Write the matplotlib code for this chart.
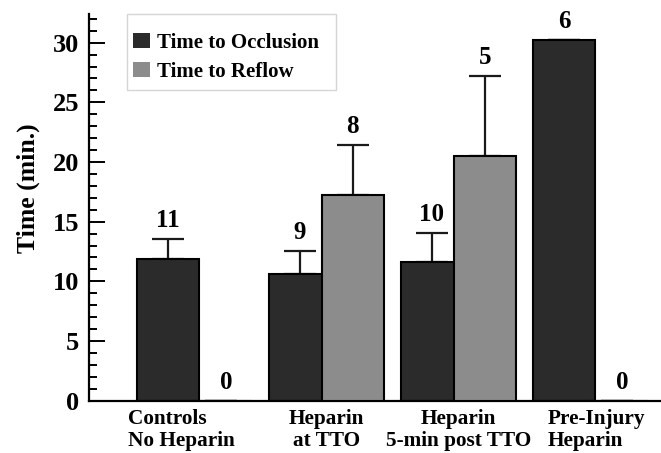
import matplotlib
matplotlib.use("Agg")
import matplotlib.pyplot as plt
import numpy as np
from matplotlib.ticker import MultipleLocator
from matplotlib.patches import Patch, Rectangle
from matplotlib.transforms import ScaledTranslation

plt.rcParams['font.family'] = ['Liberation Serif', 'DejaVu Serif']
plt.rcParams['font.weight'] = 'bold'

groups = ["Controls\nNo Heparin", "Heparin\nat TTO", "Heparin\n5-min post TTO", "Pre-Injury\nHeparin"]
occlusion = [11.84, 10.58, 11.61, 30.19]
occlusion_err = [1.73, 2.0, 2.43, 0]
reflow = [0, 17.27, 20.53, 0]
reflow_err = [0, 4.18, 6.68, 0]
n_occlusion = [11, 9, 10, 6]
n_reflow = [0, 8, 5, 0]

dark = '#2b2b2b'
gray = '#8c8c8c'

fig = plt.figure(figsize=(6.61, 4.53), dpi=100)
ax = fig.add_axes([0.1346, 0.1155, 0.8654, 0.8535])

x = np.arange(len(groups))
w = 0.47
off = 0.40

ebar = dict(ecolor='#1a1a1a', elinewidth=1.6, capsize=11.5, capthick=1.6)

ax.bar(x, occlusion, w, color=dark, edgecolor='black', linewidth=1.5,
       zorder=2, label='Time to Occlusion')
ax.errorbar(x, occlusion, yerr=[np.zeros(len(x)), occlusion_err],
            fmt='none', zorder=1, **ebar)
ax.bar(x + off, reflow, w, color=gray, edgecolor='black', linewidth=1.5,
       zorder=3, label='Time to Reflow')
ax.errorbar(x + off, reflow, yerr=[np.zeros(len(x)), reflow_err],
            fmt='none', zorder=1, **ebar)

# sample sizes over each bar (empty reflow bars get theirs a bit further right)
for xi, v, e, n in zip(x, occlusion, occlusion_err, n_occlusion):
    ax.annotate(str(n), (xi, v + e), xytext=(0, 5), textcoords='offset points',
                ha='center', va='bottom', fontsize=18, fontweight='bold')
for xi, v, e, n in zip(x + off, reflow, reflow_err, n_reflow):
    dx = 4 if v == 0 else 0
    ax.annotate(str(n), (xi, v + e), xytext=(dx, 5), textcoords='offset points',
                ha='center', va='bottom', fontsize=18, fontweight='bold')

ax.set_xlim(-0.598, 3.735)
ax.set_ylim(0, 32.4)
ax.yaxis.set_major_locator(MultipleLocator(5))
ax.yaxis.set_minor_locator(MultipleLocator(1))
ax.tick_params(axis='y', which='major', direction='in', length=11.5, width=1.4,
               labelsize=19, pad=7)
ax.tick_params(axis='y', which='minor', direction='in', length=6, width=1.4)

ax.set_xticks(x + off / 2)
ax.set_xticklabels(groups, fontsize=15.3, fontweight='bold', linespacing=1.12)
ax.tick_params(axis='x', length=0, pad=6)
nudge = {0: -0.13, 3: 0.06}
for i, lab in enumerate(ax.get_xticklabels()):
    if i in nudge:
        lab.set_multialignment('left')
        lab.set_transform(lab.get_transform() +
                          ScaledTranslation(nudge[i], 0, fig.dpi_scale_trans))

ax.set_ylabel('Time (min.)', fontsize=18.5, fontweight='bold')
ax.yaxis.set_label_coords(-0.085, 0.55)

for s in ('top', 'right'):
    ax.spines[s].set_visible(False)
for s in ('left', 'bottom'):
    ax.spines[s].set_linewidth(1.6)

# legend box drawn by hand, entries placed inside it
ax.add_patch(Rectangle((0.0664, 0.8035), 0.3654, 0.1965, transform=ax.transAxes,
                       facecolor='white', edgecolor='#d5d5d5', linewidth=1.0,
                       zorder=4, clip_on=False))
handles = [Patch(facecolor=dark, edgecolor='none'), Patch(facecolor=gray, edgecolor='none')]
leg = ax.legend(handles, ['Time to Occlusion', 'Time to Reflow'],
                loc='upper left', bbox_to_anchor=(0.0769, 0.952), borderaxespad=0,
                prop={'size': 15, 'weight': 'bold'}, frameon=False,
                handlelength=0.8, handleheight=0.75, handletextpad=0.35,
                borderpad=0, labelspacing=0.45)
leg.set_zorder(5)

fig.savefig('out.png', dpi=100)
